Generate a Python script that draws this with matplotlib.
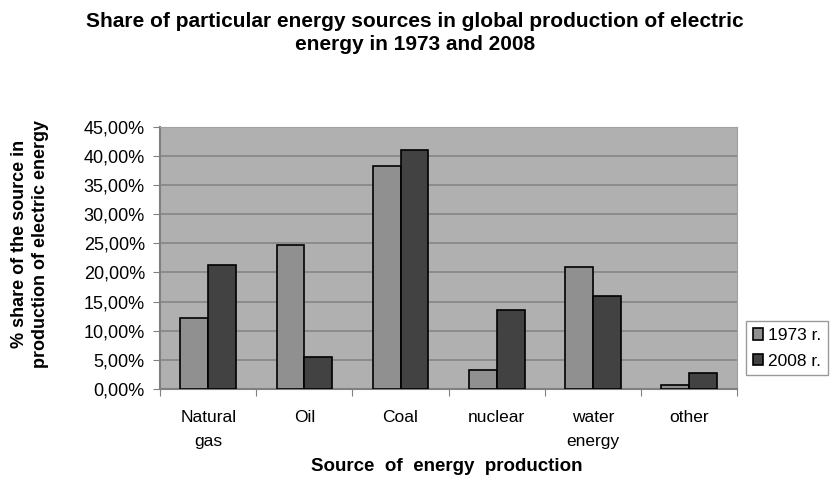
import matplotlib.pyplot as plt
import matplotlib.ticker as mticker
import numpy as np

sources = ['Natural\ngas', 'Oil', 'Coal', 'nuclear', 'water\nenergy', 'other']
share_1973 = [12.1, 24.7, 38.3, 3.3, 21.0, 0.6]
share_2008 = [21.3, 5.5, 41.0, 13.5, 15.9, 2.8]
series_labels = ['1973 r.', '2008 r.']

plt.rcParams['font.family'] = ['Liberation Sans', 'DejaVu Sans']

fig = plt.figure(figsize=(8.3, 4.79), dpi=100)
ax = fig.add_axes([0.193, 0.188, 0.695, 0.547])

x = np.arange(len(sources))
w = 0.29
ax.bar(x - w / 2, share_1973, w, color='#909090', edgecolor='black', linewidth=1.2,
       label=series_labels[0], zorder=3)
ax.bar(x + w / 2, share_2008, w, color='#424242', edgecolor='black', linewidth=1.2,
       label=series_labels[1], zorder=3)

ax.set_facecolor('#b0b0b0')
ax.set_xlim(-0.5, len(sources) - 0.5)
ax.set_ylim(0, 45)
ax.set_yticks(np.arange(0, 46, 5))
ax.yaxis.set_major_formatter(mticker.FuncFormatter(lambda v, p: f'{v:.2f}%'.replace('.', ',')))
ax.grid(axis='y', color='#858585', linewidth=1.2, zorder=0)

# ticks between the categories, labels centred under each group
ax.set_xticks(np.arange(-0.5, len(sources), 1))
ax.set_xticklabels([])
ax.set_xticks(x, minor=True)
ax.set_xticklabels(sources, minor=True, fontsize=12.5, linespacing=1.75)
ax.tick_params(axis='x', which='minor', length=0, pad=15)
ax.tick_params(axis='x', which='major', length=5, color='#808080')
ax.tick_params(axis='y', length=5, color='#808080', labelsize=13, pad=6)

for s in ['left', 'bottom']:
    ax.spines[s].set_color('#808080')
    ax.spines[s].set_linewidth(1.5)
for s in ['top', 'right']:
    ax.spines[s].set_color('#a0a0a0')

fig.text(0.538, 0.027, 'Source  of  energy  production', ha='center', va='center',
         fontsize=13.5, fontweight='bold')
fig.text(0.036, 0.49, '% share of the source in\nproduction of electric energy', rotation=90,
         ha='center', va='center', fontsize=13, fontweight='bold', linespacing=1.35)

fig.suptitle('Share of particular energy sources in global production of electric\nenergy in 1973 and 2008',
             fontsize=15, fontweight='bold', y=0.975, linespacing=1.3)

leg = ax.legend(loc='center left', bbox_to_anchor=(1.0, 0.155), fontsize=12.5, frameon=True,
                fancybox=False, edgecolor='#808080', handlelength=0.6, handleheight=0.6,
                handletextpad=0.3, borderpad=0.4, borderaxespad=0.5, labelspacing=0.6)

fig.savefig('out.png', dpi=100)
